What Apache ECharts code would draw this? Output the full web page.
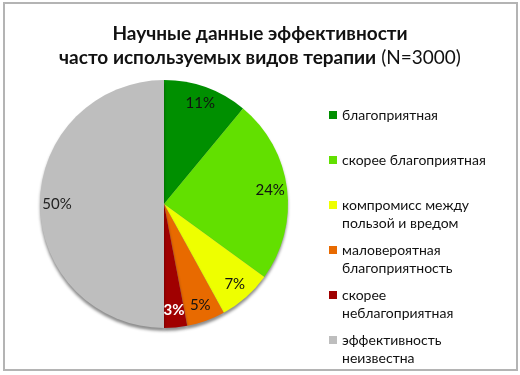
<!DOCTYPE html>
<html><head><meta charset="utf-8">
<script src="https://cdn.jsdelivr.net/npm/echarts@6/dist/echarts.min.js"></script>
<style>
html,body{margin:0;padding:0;background:#fff;}
#frame{position:absolute;left:3px;top:2px;width:511px;height:365px;border:2px solid #b4b4b4;}
#c{position:absolute;left:0;top:0;width:520px;height:375px;}
</style></head>
<body><div id="frame"></div><div id="c"></div>
<script>
const categories = ['благоприятная','скорее благоприятная','компромисс между\nпользой и вредом','маловероятная\nблагоприятность','скорее\nнеблагоприятная','эффективность\nнеизвестна'];
const values = [11, 24, 7, 5, 3, 50];
const colors = ['#008F00','#62E000','#EEFF00','#E86A00','#A00000','#BEBEBE'];
const labelColors = ['#111','#111','#111','#111','#fff','#222'];
const titleLine1 = 'Научные данные эффективности';
const titleLine2 = 'часто используемых видов терапии';
const titleN = '(N=3000)';

const chart = echarts.init(document.getElementById('c'), null, {renderer:'canvas'});
const FONT = 'Lato, "Open Sans", sans-serif';
const data = categories.map((n,i)=>({name:n, value:values[i], itemStyle:{color:colors[i]}}));
const labelData = categories.map((n,i)=>({name:n, value:values[i], label:{color:labelColors[i], fontWeight: i===4?'bold':'normal'}}));
chart.setOption({
  animation:false,
  title:{
    text: '{b|'+titleLine1+'}\n{b|'+titleLine2+'} {n|'+titleN+'}',
    left:'center', top:17,
    textStyle:{rich:{
      b:{fontFamily:FONT, fontWeight:'bold', fontSize:19, color:'#111', lineHeight:24},
      n:{fontFamily:FONT, fontWeight:'normal', fontSize:19, color:'#111', lineHeight:24}
    }}
  },
  legend:{
    orient:'vertical', left:329, top:88, height:330, padding:0,
    itemWidth:8, itemHeight:8, itemGap:-9,
    icon:'rect',
    selectedMode:false,
    data: categories,
    formatter: function(name){ return name.indexOf('\n')>=0 ? '\u00a0\n' + name : '\u00a0\n' + name + '\n\u00a0'; },
    textStyle:{fontFamily:FONT, fontSize:14, color:'#111', lineHeight:18}
  },
  series:[
    {
      type:'pie', center:[164,204], radius:[0,124], startAngle:90, clockwise:true,
      label:{show:false}, labelLine:{show:false}, silent:true,
      itemStyle:{shadowColor:'rgba(0,0,0,0.45)', shadowOffsetY:3, shadowBlur:3},
      data:data
    },
    {
      type:'pie', center:[164,204], radius:[86,122], startAngle:90, clockwise:true,
      silent:true, legendHoverLink:false,
      itemStyle:{color:'rgba(0,0,0,0)'},
      label:{show:true, position:'inside', formatter:'{c}%', fontFamily:FONT, fontSize:15},
      labelLine:{show:false},
      data:labelData
    }
  ]
});
</script></body></html>
